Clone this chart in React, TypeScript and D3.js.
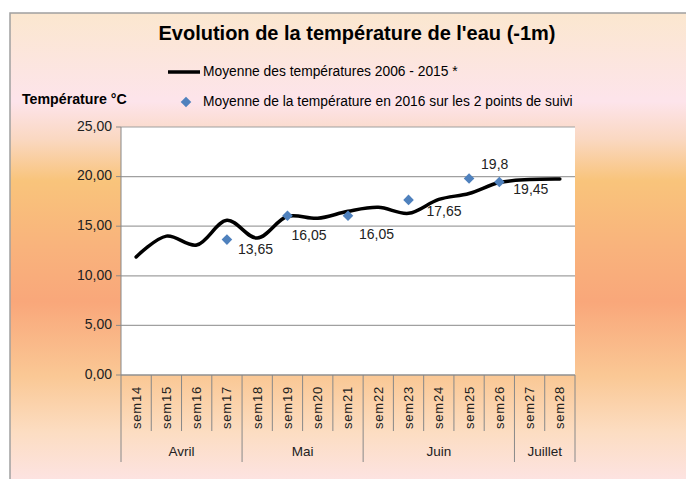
import React from 'react'
import * as d3 from 'd3'

const width = 686
const height = 479

// moyenne 2006 - 2015 (courbe lissée)
const weeks = ['sem14', 'sem15', 'sem16', 'sem17', 'sem18', 'sem19', 'sem20', 'sem21', 'sem22', 'sem23', 'sem24', 'sem25', 'sem26', 'sem27', 'sem28']
const avgTemps = [11.9, 14.0, 13.1, 15.6, 13.8, 16.0, 15.8, 16.5, 16.9, 16.3, 17.7, 18.3, 19.4, 19.7, 19.75]

// 2016, 2 points de suivi
const obsWeeks = ['sem17', 'sem19', 'sem21', 'sem23', 'sem25', 'sem26']
const obsTemps = [13.65, 16.05, 16.05, 17.65, 19.8, 19.45]
// where each data label sits relative to its point
const labelOffsets = [[11, 11], [4, 21], [11, 20], [18, 12], [12, -13], [14, 8]]

const monthNames = ['Avril', 'Mai', 'Juin', 'Juillet']
const monthWeekCounts = [4, 4, 5, 2]

const yTicks = [0, 5, 10, 15, 20, 25]

const plot = {left: 121, right: 575, top: 127, bottom: 375}
const font = "'Liberation Sans', Arial, sans-serif"

export default function App() {
    const x = d3.scaleBand().domain(weeks).range([plot.left, plot.right]).padding(0)
    const y = d3.scaleLinear().domain([0, 25]).range([plot.bottom, plot.top])
    const cx = (w: string) => (x(w) as number) + x.bandwidth() / 2

    const line = d3.line<number>()
        .x((d, i) => cx(weeks[i]))
        .y(d => y(d))
        .curve(d3.curveCatmullRom.alpha(0.5))

    const diamond = d3.symbol().type(d3.symbolSquare).size(56)()

    // month boundaries (index of first week in each month)
    const bounds = [0]
    monthWeekCounts.forEach(c => bounds.push(bounds[bounds.length - 1] + c))
    const bx = (i: number) => plot.left + i * x.bandwidth()

    const fmt = (v: number) => String(v).replace('.', ',')

    return (
        <svg width={width} height={height} style={{position: 'absolute', left: 0, top: 0}} fontFamily={font}>
            <defs>
                <linearGradient id="bg" gradientUnits="userSpaceOnUse" x1="0" y1="13" x2="0" y2="479">
                    <stop offset="0" stopColor="#FBE7CF" />
                    <stop offset="0.19" stopColor="#FDE4EB" />
                    <stop offset="0.27" stopColor="#FAD8C2" />
                    <stop offset="0.36" stopColor="#F9C47B" />
                    <stop offset="0.5" stopColor="#F9B37C" />
                    <stop offset="0.62" stopColor="#F9A77A" />
                    <stop offset="0.78" stopColor="#FAC895" />
                    <stop offset="0.9" stopColor="#FCDDC2" />
                    <stop offset="1" stopColor="#FDE3E1" />
                </linearGradient>
            </defs>
            <rect x={0} y={0} width={width} height={height} fill="#fff" />
            <rect x={10} y={13} width={width} height={height} fill="url(#bg)" stroke="#A0A0A0" strokeWidth={1.5} />

            <text x={357} y={40} textAnchor="middle" fontSize={20} fontWeight="bold" fill="#000">
                Evolution de la température de l'eau (-1m)
            </text>

            {/* legend */}
            <line x1={168} x2={200} y1={72} y2={72} stroke="#000" strokeWidth={3.5} />
            <text x={203} y={72} dominantBaseline="middle" fontSize={13.8} fill="#000">Moyenne des températures 2006 - 2015 *</text>
            <path d={diamond} transform="translate(186,102) rotate(45)" fill="#4F81BD" />
            <text x={203} y={102} dominantBaseline="middle" fontSize={13.8} fill="#000">Moyenne de la température en 2016 sur les 2 points de suivi</text>

            <text x={22} y={100} dominantBaseline="middle" fontSize={14.2} fontWeight="bold" fill="#000">Température °C</text>

            {/* plot area */}
            <rect x={plot.left} y={plot.top} width={plot.right - plot.left} height={plot.bottom - plot.top} fill="#fff" />
            {yTicks.map(t => (
                <g key={t}>
                    <line x1={plot.left} x2={plot.right} y1={y(t)} y2={y(t)} stroke="#A0A0A0" strokeWidth={1.2} />
                    <line x1={plot.left - 5} x2={plot.left} y1={y(t)} y2={y(t)} stroke="#888" />
                    <text x={plot.left - 9} y={y(t)} textAnchor="end" dominantBaseline="middle" fontSize={14} fill="#222">
                        {t.toFixed(2).replace('.', ',')}
                    </text>
                </g>
            ))}
            <line x1={plot.left} x2={plot.left} y1={plot.top} y2={plot.bottom} stroke="#888" />
            <line x1={plot.left} x2={plot.right} y1={plot.bottom} y2={plot.bottom} stroke="#888" />

            {/* category axis */}
            {d3.range(weeks.length + 1).map(i => (
                <line key={i} x1={bx(i)} x2={bx(i)} y1={plot.bottom} y2={bounds.includes(i) ? 462 : 431} stroke="#888" />
            ))}
            {weeks.map(w => (
                <text key={w} transform={`translate(${cx(w) + 1},386) rotate(-90)`} textAnchor="end" dominantBaseline="middle" fontSize={13} letterSpacing={0.8} fill="#222">
                    {w}
                </text>
            ))}
            {monthNames.map((m, i) => (
                <text key={m} x={(bx(bounds[i]) + bx(bounds[i + 1])) / 2} y={452} textAnchor="middle" dominantBaseline="middle" fontSize={13.5} fill="#222">
                    {m}
                </text>
            ))}

            {/* series */}
            <path d={line(avgTemps) as string} fill="none" stroke="#000" strokeWidth={3.5} strokeLinecap="round" />
            {obsWeeks.map((w, i) => (
                <g key={i}>
                    <path d={diamond} transform={`translate(${cx(w)},${y(obsTemps[i])}) rotate(45)`} fill="#4F81BD" />
                    <text x={cx(w) + labelOffsets[i][0]} y={y(obsTemps[i]) + labelOffsets[i][1]} dominantBaseline="middle" fontSize={14} fill="#222">
                        {fmt(obsTemps[i])}
                    </text>
                </g>
            ))}
        </svg>
    )
}
